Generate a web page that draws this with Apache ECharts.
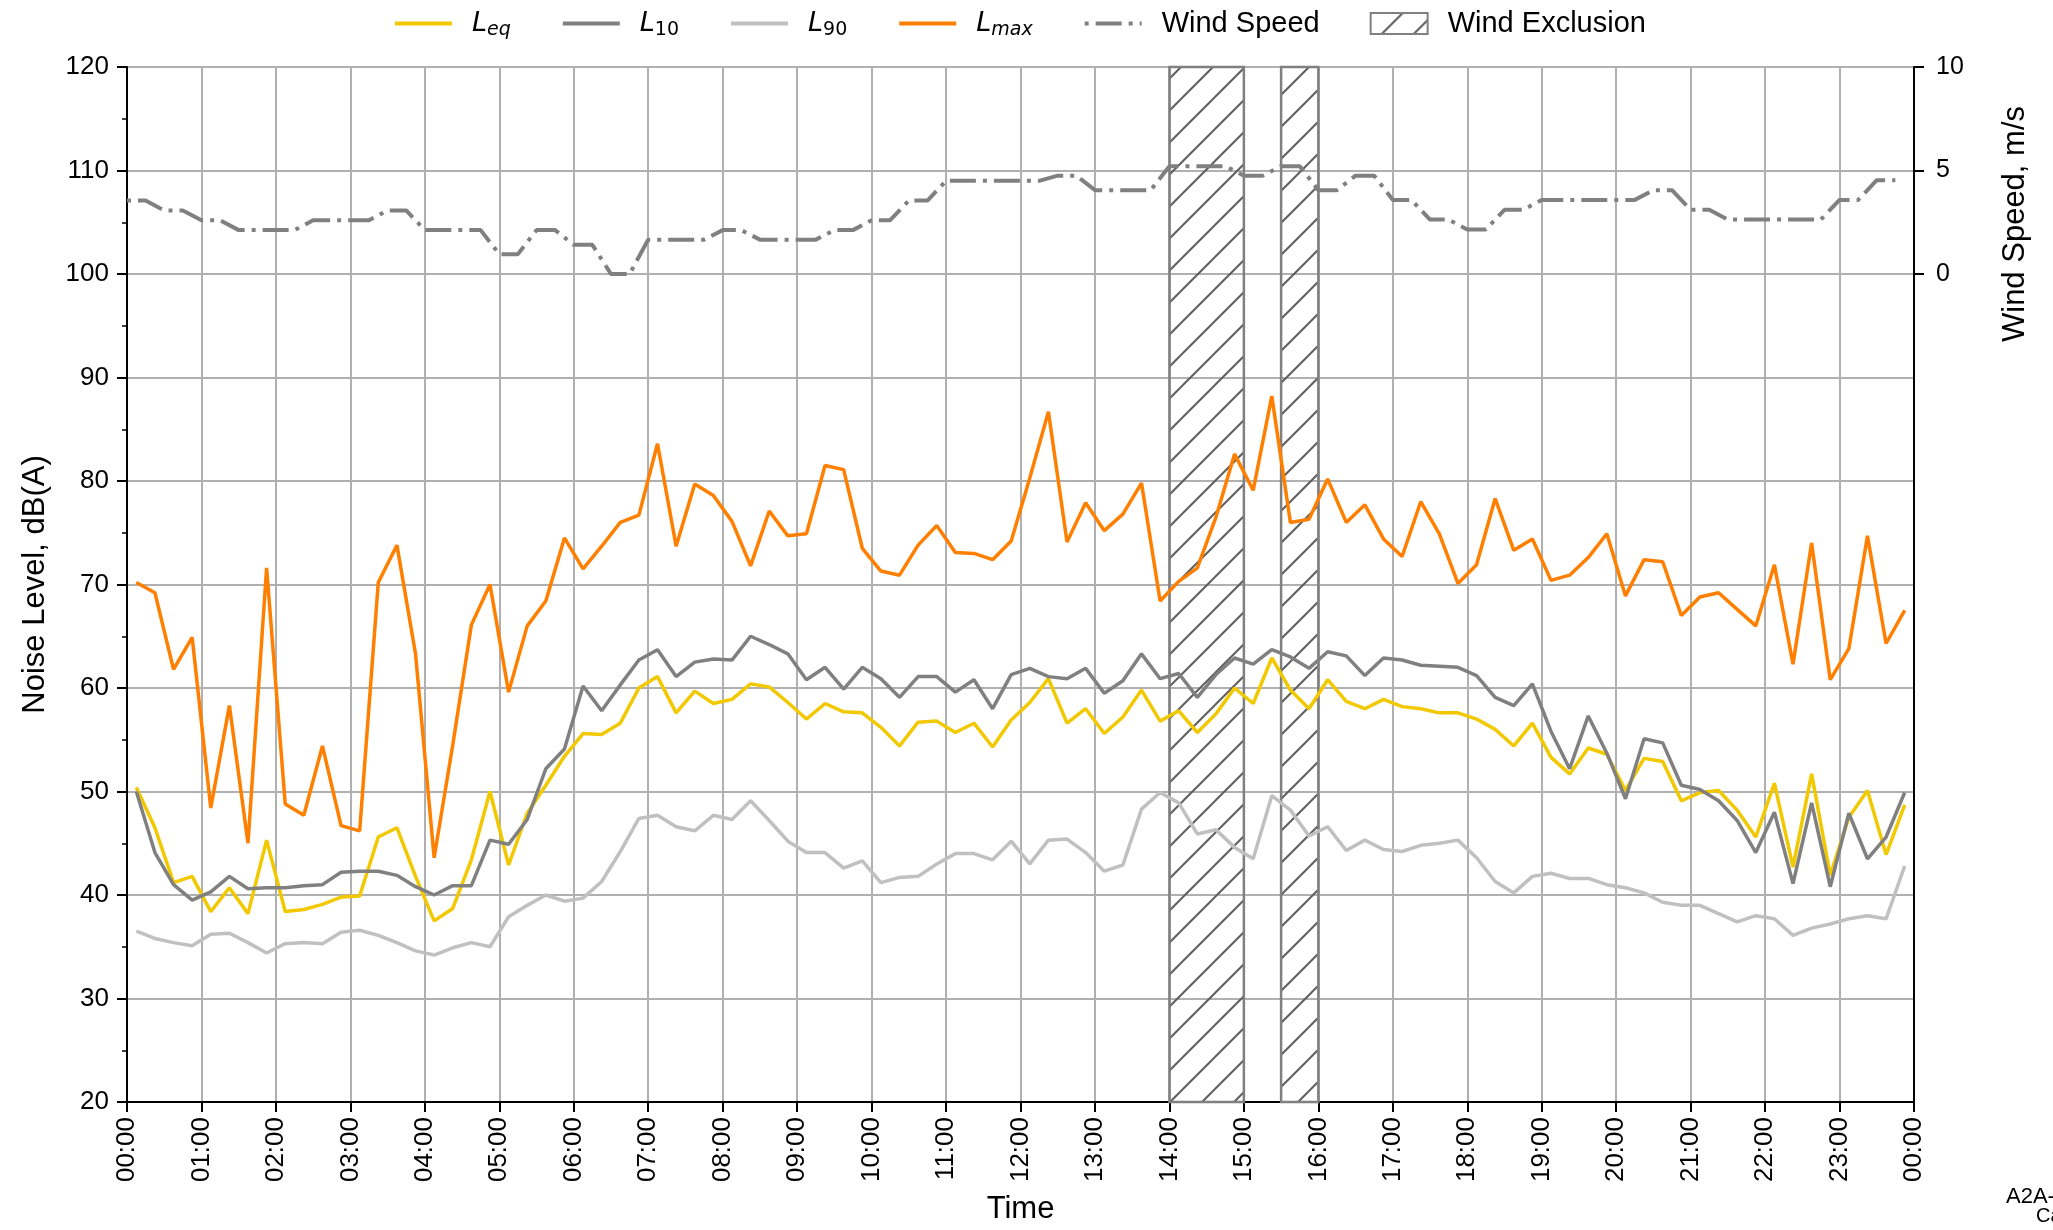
<!DOCTYPE html>
<html><head><meta charset="utf-8">
<script src="https://cdn.jsdelivr.net/npm/echarts@6/dist/echarts.min.js"></script>
<style>html,body{margin:0;padding:0;background:#fff}#c{width:2053px;height:1230px}</style>
</head><body><div id="c"></div>
<script>
// 15-minute results, plotted at the middle of each interval (hours)
const leq = [50.4,46.5,41.2,41.8,38.4,40.7,38.2,45.3,38.4,38.6,39.1,39.8,39.9,45.6,46.5,41.8,37.5,38.7,43.4,50.0,42.9,47.9,50.6,53.4,
  55.6,55.5,56.6,60.0,61.1,57.6,59.7,58.5,58.9,60.4,60.1,58.6,57.0,58.5,57.7,57.6,56.2,54.4,56.7,56.8,55.7,56.6,54.3,56.9,
  58.6,60.9,56.6,58.0,55.6,57.2,59.8,56.8,57.8,55.7,57.5,60.0,58.5,62.9,59.8,58.0,60.8,58.7,58.0,58.9,58.2,58.0,57.6,57.6,
  57.0,56.0,54.4,56.6,53.3,51.7,54.2,53.6,50.1,53.2,52.9,49.1,49.9,50.1,48.2,45.6,50.8,42.7,51.7,41.9,47.5,50.1,43.9,48.7];
const l10 = [50.0,44.1,41.0,39.5,40.3,41.8,40.6,40.7,40.7,40.9,41.0,42.2,42.3,42.3,41.9,40.8,40.0,40.9,40.9,45.3,44.9,47.3,52.2,54.1,
  60.2,57.8,60.3,62.7,63.7,61.1,62.5,62.8,62.7,65.0,64.2,63.3,60.8,62.0,59.9,62.0,60.9,59.1,61.1,61.1,59.6,60.8,58.0,61.3,
  61.9,61.1,60.9,61.9,59.5,60.7,63.3,60.9,61.4,59.1,61.3,62.9,62.3,63.7,63.0,61.9,63.5,63.1,61.2,62.9,62.7,62.2,62.1,62.0,
  61.2,59.1,58.3,60.4,55.8,52.2,57.3,53.7,49.3,55.1,54.7,50.6,50.2,49.1,47.2,44.1,48.0,41.1,48.9,40.8,47.9,43.5,45.6,49.9];
const l90 = [36.5,35.8,35.4,35.1,36.2,36.3,35.4,34.4,35.3,35.4,35.3,36.4,36.6,36.1,35.4,34.6,34.2,34.9,35.4,35.0,37.9,39.0,40.0,39.4,
  39.7,41.3,44.2,47.4,47.7,46.6,46.2,47.7,47.3,49.1,47.2,45.2,44.1,44.1,42.6,43.3,41.2,41.7,41.8,43.0,44.0,44.0,43.4,45.2,
  43.0,45.3,45.4,44.1,42.3,42.9,48.3,49.9,48.9,45.9,46.3,44.6,43.5,49.6,48.2,45.7,46.6,44.3,45.3,44.4,44.2,44.8,45.0,45.3,
  43.6,41.3,40.2,41.8,42.1,41.6,41.6,41.0,40.7,40.2,39.3,39.0,39.0,38.2,37.4,38.0,37.7,36.1,36.8,37.2,37.7,38.0,37.7,42.8];
const lmax = [70.2,69.2,61.8,64.9,48.4,58.3,45.0,71.6,48.8,47.7,54.4,46.7,46.2,70.2,73.8,63.3,43.6,54.5,66.1,70.0,59.6,66.0,68.4,74.5,
  71.5,73.7,76.0,76.7,83.6,73.7,79.7,78.6,76.1,71.8,77.1,74.7,74.9,81.5,81.1,73.5,71.3,70.9,73.8,75.7,73.1,73.0,72.4,74.2,
  80.3,86.7,74.1,77.9,75.2,76.8,79.8,68.4,70.3,71.6,76.5,82.6,79.1,88.2,76.0,76.3,80.2,76.0,77.7,74.4,72.7,78.0,74.9,70.1,
  71.9,78.3,73.3,74.4,70.4,70.9,72.6,74.9,68.9,72.4,72.2,67.0,68.8,69.2,67.6,66.0,71.9,62.3,74.0,60.8,63.8,74.7,64.3,67.5];
// wind speed, m/s, at the start of each 15-minute interval
const windSpeed = [3.55,3.55,3.07,3.07,2.6,2.6,2.12,2.12,2.12,2.12,2.6,2.6,2.6,2.6,3.07,3.07,2.12,2.12,2.12,2.12,0.96,0.96,2.12,2.12,
  1.41,1.41,0,0,1.66,1.66,1.66,1.66,2.12,2.12,1.66,1.66,1.66,1.66,2.12,2.12,2.6,2.6,3.55,3.55,4.5,4.5,4.5,4.5,
  4.5,4.5,4.75,4.75,4.05,4.05,4.05,4.05,5.21,5.21,5.21,5.21,4.75,4.75,5.21,5.21,4.05,4.05,4.75,4.75,3.58,3.58,2.63,2.63,
  2.15,2.15,3.1,3.1,3.58,3.58,3.58,3.58,3.58,3.58,4.05,4.05,3.1,3.1,2.63,2.63,2.63,2.63,2.63,2.63,3.58,3.58,4.53,4.53];
// wind exclusion periods (hours)
const exclStart = [14, 15.5];
const exclEnd = [15, 16];
const windTicks = [0, 5, 10];

const STEP = 0.25;
const noiseTimes = leq.map((_, i) => i * STEP + STEP / 2);
const windTimes = windSpeed.map((_, i) => i * STEP);
const pair = (t, v) => t.map((x, i) => [x, v[i]]);

const pc = document.createElement('canvas');
pc.width = 32; pc.height = 32;
const g = pc.getContext('2d');
g.strokeStyle = '#5e5e5e'; g.lineWidth = 2;
g.beginPath();
g.moveTo(-4, 36); g.lineTo(36, -4);
g.moveTo(-20, 20); g.lineTo(20, -20);
g.moveTo(12, 52); g.lineTo(52, 12);
g.stroke();
const hatch = { image: pc, repeat: 'repeat' };

const FONT = 'Liberation Sans';
const chart = echarts.init(document.getElementById('c'));
const pad = n => (n < 10 ? '0' : '') + n;

const legendFmt = {
  'Leq': '{l|L}{s|eq}{e3|}',
  'L10': '{l|L}{u|10}',
  'L90': '{l|L}{u|90}',
  'Lmax': '{l|L}{s|max}{e|}',
  'Wind Speed': '{n|Wind Speed}{e2|}',
  'Wind Exclusion': '{n|Wind Exclusion}'
};
const noSym = { color: 'rgba(0,0,0,0)', borderWidth: 0, opacity: 0 };
const lw = { width: 4 };

chart.setOption({
  animation: false,
  backgroundColor: '#fff',
  textStyle: { fontFamily: FONT },
  legend: {
    top: 2, left: 388,
    itemWidth: 57, itemHeight: 21, itemGap: 50,
    data: [
      { name: 'Leq', itemStyle: noSym, lineStyle: lw },
      { name: 'L10', itemStyle: noSym, lineStyle: lw },
      { name: 'L90', itemStyle: noSym, lineStyle: lw },
      { name: 'Lmax', itemStyle: noSym, lineStyle: lw },
      { name: 'Wind Speed', itemStyle: noSym, lineStyle: lw },
      { name: 'Wind Exclusion', icon: 'rect' }
    ],
    formatter: n => legendFmt[n],
    textStyle: {
      color: '#000',
      rich: {
        l: { fontFamily: 'DejaVu Sans', fontStyle: 'italic', fontSize: 27, lineHeight: 38, padding: [0, 0, 0, 15], color: '#000' },
        s: { fontFamily: 'DejaVu Sans', fontStyle: 'italic', fontSize: 19, lineHeight: 20, padding: [14, 0, 0, 0], color: '#000' },
        u: { fontFamily: 'DejaVu Sans', fontSize: 19, lineHeight: 20, padding: [14, 0, 0, 0], color: '#000' },
        e: { width: 9 },
        e2: { width: 10 },
        e3: { width: 3 },
        n: { fontFamily: FONT, fontSize: 29, lineHeight: 38, padding: [0, 0, 0, 15], color: '#000' }
      }
    }
  },
  grid: { left: 127, right: 139, top: 67, bottom: 128, show: true, borderColor: '#000', borderWidth: 2, backgroundColor: 'transparent' },
  xAxis: {
    type: 'value', min: 0, max: 24, interval: 1,
    name: 'Time', nameLocation: 'middle', nameGap: 92,
    nameTextStyle: { fontSize: 31, color: '#000', fontFamily: FONT },
    axisLine: { show: true, onZero: false, lineStyle: { color: '#000', width: 2 } },
    axisTick: { show: true, length: 10, lineStyle: { color: '#000', width: 2 } },
    axisLabel: { rotate: 90, fontSize: 26, color: '#000', margin: 15, fontFamily: FONT,
      formatter: v => pad(v % 24) + ':00' },
    splitLine: { show: true, lineStyle: { color: '#b0b0b0', width: 2 } }
  },
  yAxis: [{
    type: 'value', min: 20, max: 120, interval: 10,
    name: 'Noise Level, dB(A)', nameLocation: 'middle', nameGap: 76,
    nameTextStyle: { fontSize: 31, color: '#000', fontFamily: FONT },
    axisLine: { show: true, lineStyle: { color: '#000', width: 2 } },
    axisTick: { show: true, length: 10, lineStyle: { color: '#000', width: 2 } },
    minorTick: { show: true, splitNumber: 2, length: 5, lineStyle: { color: '#000', width: 1.5 } },
    axisLabel: { fontSize: 26, color: '#000', margin: 18, fontFamily: FONT },
    splitLine: { show: true, lineStyle: { color: '#b0b0b0', width: 2 } }
  }, {
    type: 'value', min: -40, max: 10, interval: 5, position: 'right',
    axisLine: { show: true, onZero: false, lineStyle: { color: '#000', width: 2 } },
    axisTick: { show: true, length: 10, customValues: windTicks, lineStyle: { color: '#000', width: 2 } },
    axisLabel: { fontSize: 25, color: '#000', margin: 22, fontFamily: FONT, customValues: windTicks },
    splitLine: { show: false }
  }],
  graphic: [
    { type: 'text', x: 2015, y: 224, rotation: Math.PI / 2,
      style: { text: 'Wind Speed, m/s', font: '31px "Liberation Sans"', fill: '#000', align: 'center', verticalAlign: 'middle' } },
    { type: 'text', left: 2006, top: 1186, style: { text: 'A2A-', font: '22px "Liberation Sans"', fill: '#000' } },
    { type: 'text', left: 2036, top: 1206, style: { text: 'Ca', font: '20px "Liberation Sans"', fill: '#000' } }
  ],
  series: [
    { name: 'Wind Exclusion', type: 'custom', z: 1,
      data: exclStart.map((s, i) => [s, exclEnd[i]]),
      encode: { x: [0, 1] },
      itemStyle: { color: hatch, borderColor: '#808080', borderWidth: 2.5 },
      renderItem: (params, api) => {
        const p1 = api.coord([api.value(0), 120]);
        const p2 = api.coord([api.value(1), 20]);
        return { type: 'rect', shape: { x: p1[0], y: p1[1], width: p2[0] - p1[0], height: p2[1] - p1[1] },
          style: { fill: hatch, stroke: '#808080', lineWidth: 2.5 } };
      } },
    { name: 'Leq', type: 'line', z: 3, data: pair(noiseTimes, leq), showSymbol: false, symbol: 'none',
      color: '#f2c800', lineStyle: { color: '#f2c800', width: 3.5 } },
    { name: 'L10', type: 'line', z: 4, data: pair(noiseTimes, l10), showSymbol: false, symbol: 'none',
      color: '#808080', lineStyle: { color: '#808080', width: 3.5 } },
    { name: 'L90', type: 'line', z: 5, data: pair(noiseTimes, l90), showSymbol: false, symbol: 'none',
      color: '#c0c0c0', lineStyle: { color: '#c0c0c0', width: 3.5 } },
    { name: 'Lmax', type: 'line', z: 6, data: pair(noiseTimes, lmax), showSymbol: false, symbol: 'none',
      color: '#ff7f00', lineStyle: { color: '#ff7f00', width: 3.5 } },
    { name: 'Wind Speed', type: 'line', z: 7, yAxisIndex: 1, data: pair(windTimes, windSpeed), showSymbol: false, symbol: 'none',
      color: '#808080', lineStyle: { color: '#808080', width: 4, type: [26, 7, 4, 7], dashOffset: 33 } }
  ]
});
</script></body></html>
